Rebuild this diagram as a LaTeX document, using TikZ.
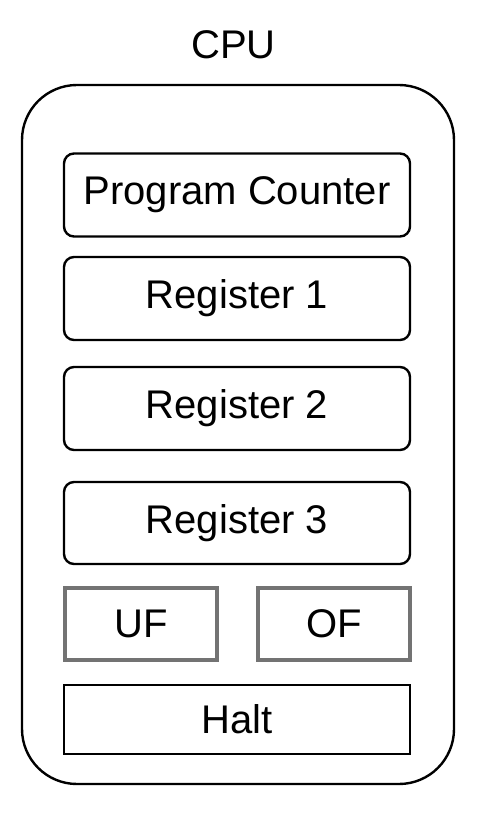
\documentclass[tikz,border=0pt]{standalone}
\usepackage{fontspec}
\setmainfont{Liberation Sans}
\usepackage{tikz}
\usetikzlibrary{positioning}

\begin{document}
\begin{tikzpicture}[x=1pt,y=-1pt,
        every node/.style={font=\fontsize{40}{48}\selectfont, inner sep=0pt},
        reg/.style={draw, line width=2.4pt, rounded corners=10pt, minimum width=346pt, minimum height=83pt},
        flag/.style={draw=black!55, line width=4pt, minimum width=152pt, minimum height=72pt},
        haltbox/.style={draw, line width=2.4pt, minimum width=346pt, minimum height=69pt}]
            \useasboundingbox (0,0) rectangle (492,818);
            \node[draw, line width=2.4pt, rounded corners=55pt, minimum width=432pt, minimum height=699pt] (cpu) at (238,434.5) {};
            \node (cpulabel) at (233.5,45) {CPU};
            \node[reg] (pc) at (237,195) {Program Counter};
            \node[reg] (r1) at (237,298.5) {Register 1};
            \node[reg] (r2) at (237,408.5) {Register 2};
            \node[reg, minimum height=82pt] (r3) at (237,523) {Register 3};
            \node[flag] (uf) at (141,624) {UF};
            \node[flag] (of) at (334,624) {OF};
            \node[haltbox] (halt) at (237,719.5) {Halt};
        \end{tikzpicture}
\end{document}
